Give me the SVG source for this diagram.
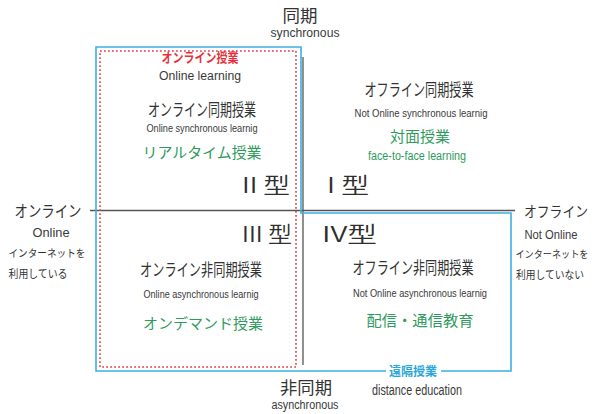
<svg xmlns="http://www.w3.org/2000/svg" width="595" height="414" viewBox="0 0 595 414">
<style>
text{font-family:"Noto Sans CJK JP","Noto Sans",sans-serif;fill:#333;text-anchor:middle}
.en{font-family:"Liberation Sans","Noto Sans",sans-serif;fill:#3a3a3a}
.g{fill:#2e9a5c}
.r{fill:#e8303a;font-weight:bold}
.b{fill:#2aa6d9;font-weight:bold}
.t{font-size:22px;text-anchor:start;fill:#2f2f2f;font-family:"Noto Sans CJK JP",sans-serif;font-weight:350}
.axis{stroke:#555;stroke-width:1.3;fill:none}
.blue{stroke:#3db0e0;stroke-width:1.6;fill:none}
.red{stroke:#e8404a;stroke-width:1.6;fill:none;stroke-dasharray:1.8 2.2}
</style>
<rect width="595" height="414" fill="#fff"/>
<g id="connectors">
<line class="axis" x1="90" y1="210.5" x2="515" y2="210.5"/>
<line class="axis" x1="303" y1="57" x2="303" y2="365"/>
<path class="blue" d="M96,47 H301 V213 H511 V371 H96 Z"/>
<rect class="red" x="100" y="51" width="196" height="316"/>
</g>
<g id="axis-top">
<text x="300" y="22" font-size="17" textLength="35" lengthAdjust="spacingAndGlyphs">同期</text>
<text class="en" x="305" y="37" font-size="12" textLength="69" lengthAdjust="spacingAndGlyphs">synchronous</text>
</g>
<g id="axis-bottom">
<text x="306" y="394" font-size="17" textLength="52" lengthAdjust="spacingAndGlyphs">非同期</text>
<text class="en" x="305" y="409" font-size="12" textLength="67" lengthAdjust="spacingAndGlyphs">asynchronous</text>
</g>
<g id="axis-left">
<text x="48" y="217" font-size="16" textLength="67" lengthAdjust="spacingAndGlyphs">オンライン</text>
<text class="en" x="51" y="237" font-size="12" textLength="37" lengthAdjust="spacingAndGlyphs">Online</text>
<text x="47" y="257" font-size="10.5" textLength="77" lengthAdjust="spacingAndGlyphs">インターネットを</text>
<text x="38" y="278" font-size="11" textLength="59" lengthAdjust="spacingAndGlyphs">利用している</text>
</g>
<g id="axis-right">
<text x="556" y="217" font-size="14.5" textLength="64" lengthAdjust="spacingAndGlyphs">オフライン</text>
<text class="en" x="551" y="239" font-size="12" textLength="53" lengthAdjust="spacingAndGlyphs">Not Online</text>
<text x="552" y="258" font-size="10" textLength="73" lengthAdjust="spacingAndGlyphs">インターネットを</text>
<text x="550" y="279" font-size="11" textLength="68" lengthAdjust="spacingAndGlyphs">利用していない</text>
</g>
<g id="online-learning">
<text class="r" x="200" y="62" font-size="13" textLength="77" lengthAdjust="spacingAndGlyphs">オンライン授業</text>
<text class="en" x="200" y="80" font-size="12.5" textLength="82" lengthAdjust="spacingAndGlyphs">Online learning</text>
</g>
<g id="type2">
<text x="202" y="116" font-size="17" textLength="108" lengthAdjust="spacingAndGlyphs">オンライン同期授業</text>
<text class="en" x="202" y="132" font-size="11" textLength="111" lengthAdjust="spacingAndGlyphs">Online synchronous learnig</text>
<text class="g" x="202" y="158" font-size="14.5" textLength="119" lengthAdjust="spacingAndGlyphs">リアルタイム授業</text>
<text class="t" x="242" y="193" textLength="48" lengthAdjust="spacingAndGlyphs">II 型</text>
</g>
<g id="type1">
<text x="419" y="96" font-size="17" textLength="109" lengthAdjust="spacingAndGlyphs">オフライン同期授業</text>
<text class="en" x="421" y="117" font-size="11" textLength="133" lengthAdjust="spacingAndGlyphs">Not Online synchronous learnig</text>
<text class="g" x="420" y="142" font-size="14.5" textLength="60" lengthAdjust="spacingAndGlyphs">対面授業</text>
<text class="en g" x="417" y="160" font-size="12" textLength="98" lengthAdjust="spacingAndGlyphs">face-to-face learning</text>
<text class="t" x="327" y="193" textLength="42" lengthAdjust="spacingAndGlyphs">I 型</text>
</g>
<g id="type3">
<text class="t" x="242" y="242" textLength="50" lengthAdjust="spacingAndGlyphs">III 型</text>
<text x="201" y="276" font-size="17" textLength="122" lengthAdjust="spacingAndGlyphs">オンライン非同期授業</text>
<text class="en" x="201" y="298" font-size="11" textLength="115" lengthAdjust="spacingAndGlyphs">Online asynchronous learnig</text>
<text class="g" x="203" y="329" font-size="14.5" textLength="120" lengthAdjust="spacingAndGlyphs">オンデマンド授業</text>
</g>
<g id="type4">
<text class="t" x="322" y="242" textLength="55" lengthAdjust="spacingAndGlyphs">IV型</text>
<text x="413" y="274" font-size="17" textLength="121" lengthAdjust="spacingAndGlyphs">オフライン非同期授業</text>
<text class="en" x="420" y="297" font-size="11" textLength="134" lengthAdjust="spacingAndGlyphs">Not Online asynchronous learnig</text>
<text class="g" x="420" y="326" font-size="15" textLength="107" lengthAdjust="spacingAndGlyphs">配信・通信教育</text>
</g>
<g id="distance">
<rect x="386" y="364" width="55" height="14" fill="#fff"/>
<text class="b" x="413" y="376" font-size="12" textLength="48" lengthAdjust="spacingAndGlyphs">遠隔授業</text>
<text class="en" x="417" y="395" font-size="14" textLength="90" lengthAdjust="spacingAndGlyphs">distance education</text>
</g>
</svg>
